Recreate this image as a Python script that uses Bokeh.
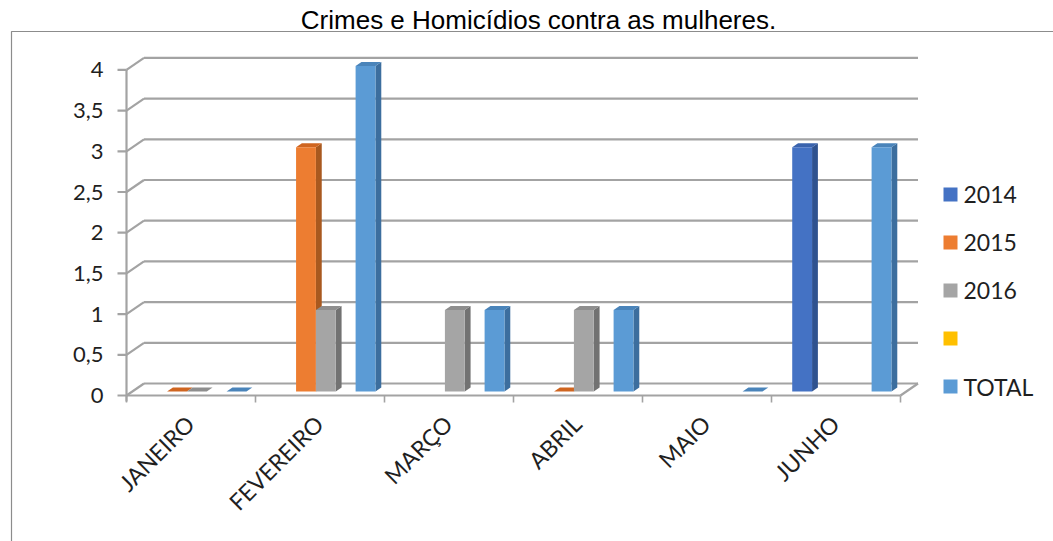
import math
from bokeh.plotting import figure
from bokeh.models import Range1d, ColumnDataSource
from bokeh.core.properties import value
from bokeh.embed import file_html
from bokeh.resources import INLINE

# ---------------- data ----------------
title_text = "Crimes e Homicídios contra as mulheres."
categories = ["JANEIRO", "FEVEREIRO", "MARÇO", "ABRIL", "MAIO", "JUNHO"]
series_names = ["2014", "2015", "2016", "", "TOTAL"]
v2014 = [None, None, None, None, None, 3]
v2015 = [0, 3, None, 0, None, None]
v2016 = [0, 1, 1, 1, None, None]
vblank = [None, None, None, None, None, None]
vtotal = [0, 4, 1, 1, 0, 3]
y_ticks = [0, 0.5, 1, 1.5, 2, 2.5, 3, 3.5, 4]
y_tick_labels = ["0", "0,5", "1", "1,5", "2", "2,5", "3", "3,5", "4"]

series_values = [v2014, v2015, v2016, vblank, vtotal]
front_colors = ["#4472C4", "#ED7D31", "#A5A5A5", "#FFC000", "#5B9BD5"]
side_colors = ["#2F528F", "#A9591F", "#727272", "#B38600", "#3C6E9E"]
top_colors = ["#3A63AD", "#CF6520", "#8E8E8E", "#D9A300", "#4A84BA"]

# ---------------- layout (pixels) ----------------
W, H = 1053, 541
PX_X0, CAT_W = 126, 129.0      # pixel of category axis origin, width of a category
PX_Y0, UNIT_H = 395, 81.4      # pixel of value 0, pixels per unit


def sx(px):
    return (px - PX_X0) / CAT_W


def sy(py):
    return (PX_Y0 - py) / UNIT_H


def dx(px):
    return px / CAT_W


def dy(px):
    return px / UNIT_H


DX, DY = dx(17.5), dy(12.0)    # depth of the 3-D box
n_cat = len(categories)
n_ser = len(series_names)
GAP = 1.5
bw = 1.0 / (n_ser + GAP)

p = figure(width=W, height=H, output_backend="svg", toolbar_location=None,
           x_range=Range1d(sx(0), sx(W)), y_range=Range1d(sy(H), sy(0)),
           x_axis_location=None, y_axis_location=None, min_border=0)
p.grid.visible = False
p.outline_line_color = None
p.background_fill_color = "white"
p.border_fill_color = "white"

GRID = "#A3A3A3"
FONT = value("Lato")
TXT = "#1F1F1F"

# chart border
p.line([sx(11), sx(11), sx(W + 20)], [sy(H + 20), sy(31), sy(31)],
       line_color="#8C8C8C", line_width=1.2)

# title
p.text(x=[sx(538)], y=[sy(19)], text=[title_text], text_font=value("Liberation Sans"),
       text_font_size="26px", text_align="center", text_baseline="middle", text_color="#000000")

# back wall gridlines + left wall diagonals
p.multi_line(xs=[[DX, n_cat + DX] for _ in y_ticks], ys=[[v + DY, v + DY] for v in y_ticks],
             line_color=GRID, line_width=2.2)
p.multi_line(xs=[[0, DX] for _ in y_ticks], ys=[[v, v + DY] for v in y_ticks],
             line_color=GRID, line_width=2.2)
# floor front edge & right edge
p.line([0, n_cat], [0, 0], line_color=GRID, line_width=2.2)
p.line([n_cat, n_cat + DX], [0, DY], line_color=GRID, line_width=2.2)
# value axis line and ticks
p.line([0, 0], [y_ticks[0] - dy(6), y_ticks[-1]], line_color=GRID, line_width=2.2)
p.multi_line(xs=[[-dx(9), 0] for _ in y_ticks], ys=[[v, v] for v in y_ticks],
             line_color=GRID, line_width=2.2)
# category ticks
p.multi_line(xs=[[i, i] for i in range(n_cat + 1)], ys=[[0, -dy(7)] for _ in range(n_cat + 1)],
             line_color=GRID, line_width=1.6)

# value labels
p.text(x=[sx(103)] * len(y_ticks), y=y_ticks, text=y_tick_labels, text_font=FONT,
       text_font_size="22px", text_align="right", text_baseline="middle", text_color=TXT)

# category labels
p.text(x=[i + 0.5 - dx(1) for i in range(n_cat)], y=[sy(419)] * n_cat, text=categories,
       angle=math.pi / 4, text_font=FONT, text_font_size="23px", text_align="right",
       text_baseline="middle", text_color=TXT)

# bars (3-D columns)
f = 1.0 / 3.0
for k, vals in enumerate(series_values):
    left, right, bottom, top = [], [], [], []
    side_x, side_y, top_x, top_y = [], [], [], []
    for i, v in enumerate(vals):
        if v is None:
            continue
        xl = i + (GAP / 2 + k) * bw + DX * f
        xr = xl + bw
        b = DY * f
        t = v + DY * f
        left.append(xl); right.append(xr); bottom.append(b); top.append(t)
        side_x.append([xr, xr + DX * f, xr + DX * f, xr])
        side_y.append([b, b + DY * f, t + DY * f, t])
        top_x.append([xl, xl + DX * f, xr + DX * f, xr])
        top_y.append([t, t + DY * f, t + DY * f, t])
    if not left:
        continue
    p.patches(xs=side_x, ys=side_y, fill_color=side_colors[k], line_color=None)
    p.patches(xs=top_x, ys=top_y, fill_color=top_colors[k], line_color=None)
    src = ColumnDataSource(dict(left=left, right=right, bottom=bottom, top=top))
    p.quad(left="left", right="right", bottom="bottom", top="top", source=src,
           fill_color=front_colors[k], line_color=None)

# legend (manual)
leg_y = [sy(194 + 48 * k) for k in range(n_ser)]
p.scatter(x=[sx(950)] * n_ser, y=leg_y, marker="square", size=14,
          fill_color=front_colors, line_color=None)
p.text(x=[sx(963)] * n_ser, y=leg_y, text=series_names, text_font=FONT,
       text_font_size="23px", text_align="left", text_baseline="middle", text_color=TXT)

open("out.html", "w").write(file_html(p, INLINE))
